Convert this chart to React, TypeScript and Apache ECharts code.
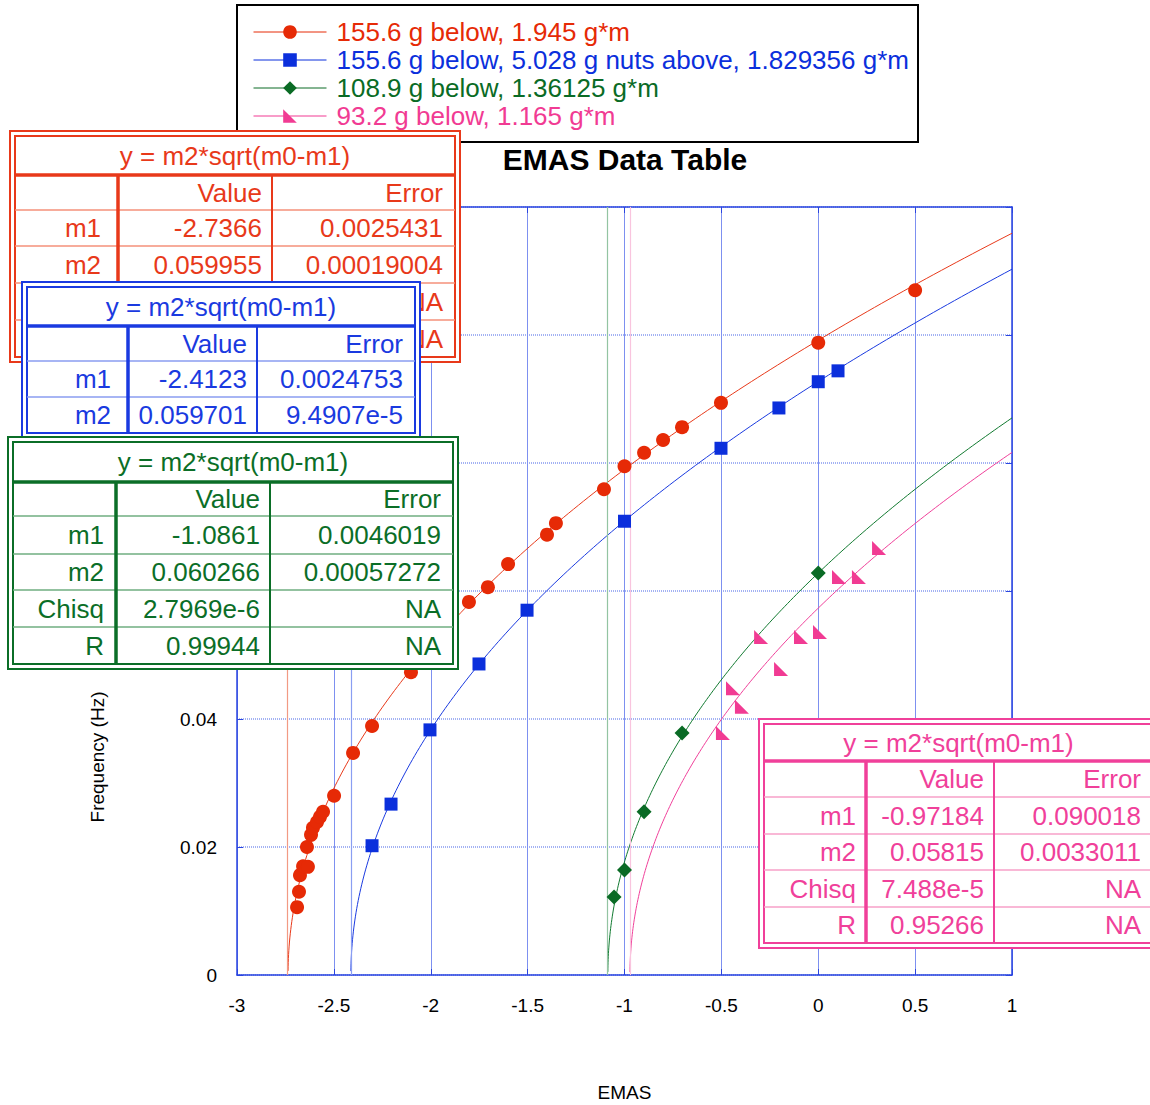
import React, { useEffect, useRef } from 'react';
import * as echarts from 'echarts';

const FONT = '"Liberation Sans", Arial, Helvetica, sans-serif';

// ---------- data ----------
const seriesNames = [
  '155.6 g below, 1.945 g*m',
  '155.6 g below, 5.028 g nuts above, 1.829356 g*m',
  '108.9 g below, 1.36125 g*m',
  '93.2 g below, 1.165 g*m',
];
const seriesColors = ['#e62a06', '#0b2fdc', '#0a6b25', '#f13b93'];
const curveColors = ['#e8391a', '#1a3ae0', '#117a30', '#f0409a'];
const m1LineColors = ['#f29a84', '#8a9ef2', '#93c4a2', '#f9c4de'];

const redX = [-2.690, -2.680, -2.675, -2.659, -2.634, -2.639, -2.618, -2.608, -2.587, -2.572, -2.556, -2.499, -2.401, -2.303, -2.102, -1.803, -1.705, -1.601, -1.400, -1.354, -1.106, -1.0, -0.899, -0.801, -0.703, -0.502, 0.0, 0.5];
const redY = [0.0106, 0.0130, 0.0156, 0.0170, 0.0169, 0.0200, 0.0219, 0.0230, 0.0239, 0.0247, 0.0255, 0.0280, 0.0347, 0.0389, 0.0473, 0.0583, 0.0606, 0.0642, 0.0688, 0.0706, 0.0759, 0.0795, 0.0816, 0.0836, 0.0856, 0.0894, 0.0988, 0.1070];

const blueX = [-2.303, -2.205, -2.004, -1.751, -1.503, -1.0, -0.502, -0.203, 0.0, 0.102];
const blueY = [0.0202, 0.0267, 0.0383, 0.0486, 0.0570, 0.0709, 0.0823, 0.0886, 0.0927, 0.0944];

const greenX = [-1.054, -1.0, -0.899, -0.703, 0.0];
const greenY = [0.0122, 0.0164, 0.0255, 0.0378, 0.0628];

const pinkX = [-0.492, -0.440, -0.394, -0.295, -0.192, -0.089, 0.009, 0.107, 0.210, 0.314];
const pinkY = [0.0378, 0.0448, 0.0419, 0.0528, 0.0478, 0.0528, 0.0536, 0.0622, 0.0622, 0.0667];

// fit tables
const fitTitle = 'y = m2*sqrt(m0-m1)';
const colHeaders = ['', 'Value', 'Error'];

const redLabels = ['m1', 'm2', '', ''];
const redValues = ['-2.7366', '0.059955', '', ''];
const redErrors = ['0.0025431', '0.00019004', 'NA', 'NA'];

const blueLabels = ['m1', 'm2'];
const blueValues = ['-2.4123', '0.059701'];
const blueErrors = ['0.0024753', '9.4907e-5'];

const greenLabels = ['m1', 'm2', 'Chisq', 'R'];
const greenValues = ['-1.0861', '0.060266', '2.7969e-6', '0.99944'];
const greenErrors = ['0.0046019', '0.00057272', 'NA', 'NA'];

const pinkLabels = ['m1', 'm2', 'Chisq', 'R'];
const pinkValues = ['-0.97184', '0.05815', '7.488e-5', '0.95266'];
const pinkErrors = ['0.090018', '0.0033011', 'NA', 'NA'];

const xTitle = 'EMAS';
const yTitle = 'Frequency (Hz)';
const chartTitle = 'EMAS Data Table';

// ---------- helpers ----------
const fitM1 = [redValues[0], blueValues[0], greenValues[0], pinkValues[0]].map(parseFloat);
const fitM2 = [redValues[1], blueValues[1], greenValues[1], pinkValues[1]].map(parseFloat);

function fitCurve(m1: number, m2: number) {
  const pts: number[][] = [];
  const N = 180;
  for (let i = 1; i <= N; i++) {
    const t = i / N;
    const x = m1 + (1 - m1) * t * t;
    pts.push([x, m2 * Math.sqrt(x - m1)]);
  }
  return pts;
}

const zip = (xs: number[], ys: number[]) => xs.map((x, i) => [x, ys[i]]);

type TableLayout = { cols: number[]; rows: number[]; color: string; light: string; z: number; labelPad: number };

function tableElements(
  t: TableLayout,
  labels: string[],
  values: string[],
  errors: string[],
) {
  const els: any[] = [];
  const [c0, c1, c2, c3] = t.cols;
  const r = t.rows;
  const top = r[0];
  const bot = r[r.length - 1];
  const z = t.z;
  els.push({
    type: 'rect', z,
    shape: { x: c0 - 5, y: top - 5, width: c3 - c0 + 10, height: bot - top + 10 },
    style: { fill: '#ffffff', stroke: t.color, lineWidth: 2 },
  });
  els.push({
    type: 'rect', z,
    shape: { x: c0, y: top, width: c3 - c0, height: bot - top },
    style: { fill: '#ffffff', stroke: t.color, lineWidth: 2 },
  });
  for (let i = 2; i < r.length - 1; i++) {
    els.push({
      type: 'line', z,
      shape: { x1: c0, y1: r[i], x2: c3, y2: r[i] },
      style: { stroke: t.light, lineWidth: 1.5 },
    });
  }
  els.push({ type: 'line', z, shape: { x1: c0, y1: r[1], x2: c3, y2: r[1] }, style: { stroke: t.color, lineWidth: 3.5 } });
  els.push({ type: 'line', z, shape: { x1: c1, y1: r[1], x2: c1, y2: bot }, style: { stroke: t.color, lineWidth: 3.5 } });
  els.push({ type: 'line', z, shape: { x1: c2, y1: r[1], x2: c2, y2: bot }, style: { stroke: t.color, lineWidth: 2 } });

  const txt = (text: string, x: number, y: number, align: string) => ({
    type: 'text', z: z + 1, x, y,
    style: {
      text, fill: t.color, fontSize: 26, fontFamily: FONT,
      textAlign: align, textVerticalAlign: 'middle', verticalAlign: 'middle',
    },
  });
  els.push(txt(fitTitle, (c0 + c3) / 2, (r[0] + r[1]) / 2, 'center'));
  const rowsText: string[][] = [colHeaders];
  labels.forEach((l, i) => rowsText.push([l, values[i], errors[i]]));
  rowsText.forEach((row, i) => {
    const cy = (r[i + 1] + r[i + 2]) / 2;
    if (isNaN(cy)) return;
    if (row[0]) els.push(txt(row[0], c1 - t.labelPad, cy, 'right'));
    if (row[1]) els.push(txt(row[1], c2 - 10, cy, 'right'));
    if (row[2]) els.push(txt(row[2], c3 - 12, cy, 'right'));
  });
  return els;
}

const redTable: TableLayout = { cols: [15, 118, 272, 455], rows: [136, 175, 210, 246, 283, 320, 357], color: '#e8391a', light: '#f4907a', z: 100, labelPad: 17 };
const blueTable: TableLayout = { cols: [27, 128, 257, 415], rows: [287, 326, 361, 397, 433], color: '#1a3ae0', light: '#8a9cf0', z: 110, labelPad: 17 };
const greenTable: TableLayout = { cols: [13, 116, 270, 453], rows: [442, 482, 516, 554, 590, 627, 664], color: '#0b6e27', light: '#6fae80', z: 120, labelPad: 12 };
const pinkTable: TableLayout = { cols: [764, 866, 994, 1153], rows: [724, 761, 797, 834, 870, 907, 943], color: '#f0409a', light: '#f7a0c8', z: 130, labelPad: 10 };

const symbols = ['circle', 'rect', 'diamond', 'path://M0,0L0,10L10,10Z'];
const symbolSizes = [14, 13, 15, 14];
const dataSets = [zip(redX, redY), zip(blueX, blueY), zip(greenX, greenY), zip(pinkX, pinkY)];

const AXIS_COLOR = '#2a45e0';

function buildOption(): any {
  const series: any[] = [];
  fitM1.forEach((m1, i) => {
    series.push({
      name: 'fit' + i,
      type: 'line',
      data: fitCurve(m1, fitM2[i]),
      showSymbol: false,
      symbol: 'none',
      smooth: false,
      lineStyle: { color: curveColors[i], width: 1 },
      z: 2,
      silent: true,
      markLine: {
        silent: true,
        symbol: 'none',
        label: { show: false },
        lineStyle: { color: m1LineColors[i], type: 'solid', width: 1.2 },
        data: [{ xAxis: m1 }],
      },
    });
  });
  dataSets.forEach((d, i) => {
    series.push({
      name: seriesNames[i],
      type: 'line',
      data: d,
      symbol: symbols[i],
      symbolSize: symbolSizes[i],
      showSymbol: true,
      itemStyle: { color: seriesColors[i] },
      lineStyle: { opacity: 0, width: 0, color: seriesColors[i] },
      z: 5,
    });
  });

  const graphic: any[] = [
    {
      type: 'rect', z: 1,
      shape: { x: 237, y: 5, width: 681, height: 137 },
      style: { fill: 'none', stroke: '#000', lineWidth: 2 },
    },
    {
      type: 'text', z: 10, x: 625, y: 159,
      style: {
        text: chartTitle, fill: '#000', fontSize: 30, fontWeight: 'bold', fontFamily: FONT,
        textAlign: 'center', textVerticalAlign: 'middle', verticalAlign: 'middle',
      },
    },
    {
      type: 'text', z: 10, x: 97, y: 757, rotation: Math.PI / 2,
      style: {
        text: yTitle, fill: '#000', fontSize: 19, fontFamily: FONT,
        textAlign: 'center', textVerticalAlign: 'middle', verticalAlign: 'middle',
      },
    },
    ...tableElements(redTable, redLabels, redValues, redErrors),
    ...tableElements(blueTable, blueLabels, blueValues, blueErrors),
    ...tableElements(greenTable, greenLabels, greenValues, greenErrors),
    ...tableElements(pinkTable, pinkLabels, pinkValues, pinkErrors),
  ];

  return {
    animation: false,
    backgroundColor: '#ffffff',
    grid: { left: 237, right: 138, top: 207, bottom: 130, containLabel: false, outerBoundsMode: 'none' },
    legend: {
      orient: 'vertical',
      left: 248,
      top: 14,
      itemWidth: 73,
      itemHeight: 17,
      itemGap: 2,
      textStyle: { fontSize: 26, fontFamily: FONT, padding: [0, 0, 0, 5] },
      data: seriesNames.map((n, i) => ({
        name: n,
        textStyle: { color: seriesColors[i], fontSize: 26, fontFamily: FONT },
        lineStyle: { color: seriesColors[i], width: 1, opacity: 1 },
        itemStyle: { color: seriesColors[i] },
      })),
      selectedMode: false,
    },
    xAxis: [
      {
        type: 'value', min: -3, max: 1, interval: 0.5, position: 'bottom',
        axisLine: { show: true, onZero: false, lineStyle: { color: AXIS_COLOR, width: 1.5 } },
        axisTick: { show: true, inside: true, length: 6, lineStyle: { color: AXIS_COLOR } },
        axisLabel: { show: true, color: '#000', fontSize: 19, fontFamily: FONT, margin: 21 },
        splitLine: { show: true, lineStyle: { color: '#7d90f0', width: 1 } },
        name: xTitle, nameLocation: 'middle', nameGap: 108,
        nameTextStyle: { color: '#000', fontSize: 19, fontFamily: FONT },
      },
      {
        type: 'value', min: -3, max: 1, interval: 0.5, position: 'top',
        axisLine: { show: true, onZero: false, lineStyle: { color: AXIS_COLOR, width: 1.5 } },
        axisTick: { show: true, inside: true, length: 6, lineStyle: { color: AXIS_COLOR } },
        axisLabel: { show: false },
        splitLine: { show: false },
      },
    ],
    yAxis: [
      {
        type: 'value', min: 0, max: 0.12, interval: 0.02, position: 'left',
        axisLine: { show: true, onZero: false, lineStyle: { color: AXIS_COLOR, width: 1.5 } },
        axisTick: { show: true, inside: true, length: 6, lineStyle: { color: AXIS_COLOR } },
        axisLabel: {
          show: true, color: '#000', fontSize: 19, fontFamily: FONT, margin: 20,
          // labels above 0.04 are covered by the fit tables in the reference
          formatter: (v: number) => (v <= 0.045 ? String(v) : ''),
        },
        splitLine: { show: true, lineStyle: { color: '#a3b2f3', width: 2, type: [1, 1] } },
      },
      {
        type: 'value', min: 0, max: 0.12, interval: 0.02, position: 'right',
        axisLine: { show: true, onZero: false, lineStyle: { color: AXIS_COLOR, width: 1.5 } },
        axisTick: { show: true, inside: true, length: 6, lineStyle: { color: AXIS_COLOR } },
        axisLabel: { show: false },
        splitLine: { show: false },
      },
    ],
    series,
    graphic,
  };
}

export default function App() {
  const ref = useRef<HTMLDivElement>(null);
  useEffect(() => {
    if (!ref.current) return;
    const chart = echarts.init(ref.current, undefined, { renderer: 'svg' });
    chart.setOption(buildOption());
    return () => chart.dispose();
  }, []);
  return (
    <div
      ref={ref}
      style={{ position: 'absolute', left: 0, top: 0, width: 1150, height: 1105, background: '#fff' }}
    />
  );
}
